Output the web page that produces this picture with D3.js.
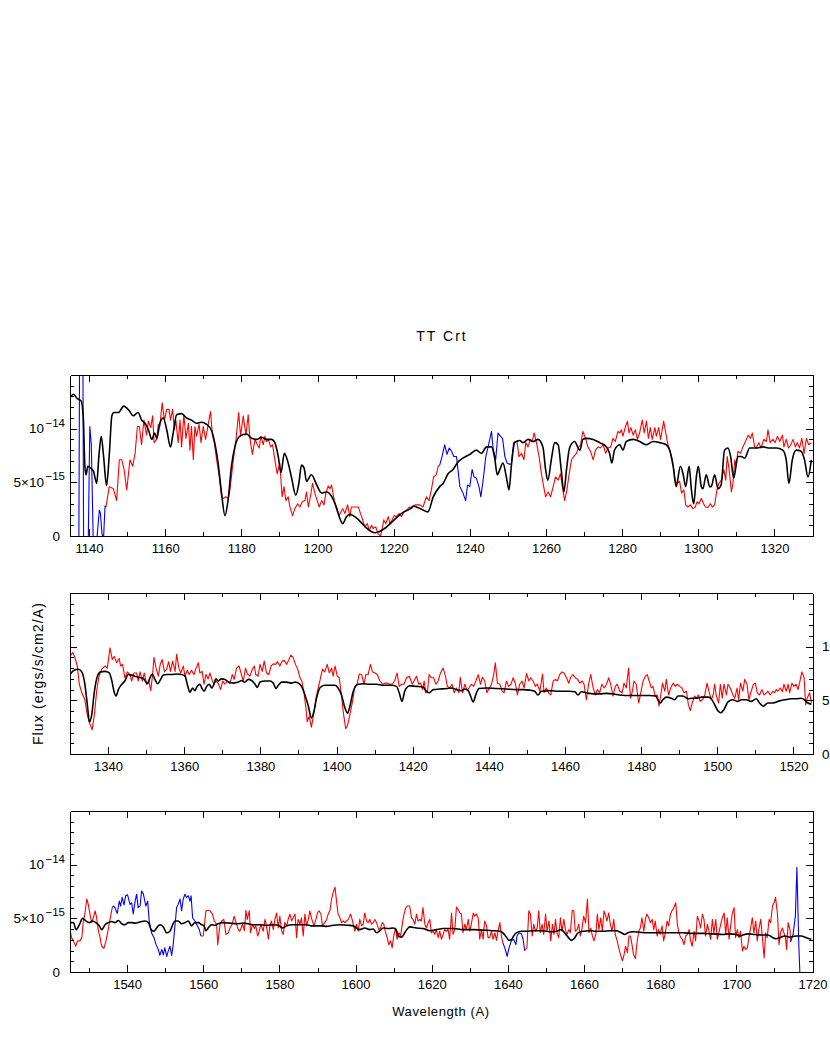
<!DOCTYPE html>
<html><head><meta charset="utf-8">
<script src="https://cdn.jsdelivr.net/npm/d3@7"></script>
<style>
body{margin:0;background:#fff}
svg{display:block}
text{font-family:"Liberation Sans",Arial,sans-serif;fill:#000}
</style></head><body>
<svg id="chart" width="830" height="1042"></svg>
<script>
// Flux values in units of 1e-15 ergs/s/cm2/A, wavelength in Angstrom
const obs1=[[1136.5,-3],[1137.3,-3],[1137.6,25],[1138.3,25],[1138.6,-3],[1139.7,-3],[1140.2,10.2],[1140.6,8.5],[1141.1,-0.5],[1142.0,-0.5],[1142.7,2.4],[1143.0,2.1],[1143.4,0.2],[1143.8,-0.3],[1144.2,2.8],[1144.45,2.7],
[1145.3,4.6],[1146.4,4.4],[1147.25,3.3],[1147.95,7.1],[1148.6,7.1],[1149.2,6.2],[1149.9,4.3],[1150.75,7.1],[1151.45,6.5],[1152.1,7.7],[1152.7,10.2],[1153.2,10.2],[1153.8,8.5],[1154.4,10.8],[1155.1,9.4],[1155.6,10.7],[1156.2,10.1],[1156.7,11.2],[1157.1,8.7],[1157.75,9.0],[1158.2,10.4],[1158.6,10.2],[1159.2,12.4],[1159.8,10.8],[1160.4,11.8],[1161.0,11.8],[1161.4,10.8],[1161.95,11.8],[1162.4,9.9],[1162.8,10.8],[1163.4,8.7],[1163.9,10.8],[1164.3,8.3],[1164.9,11.3],[1165.45,9.1],[1166.1,10.5],[1166.5,8.0],[1166.9,10.2],[1167.4,7.1],[1167.8,10.2],[1168.25,9.3],[1168.9,10.4],[1169.4,8.7],[1170.0,10.2],[1170.6,9.0],[1171.05,9.9],[1171.9,11.6],[1172.4,9.4],[1172.9,8.7],[1173.5,7.1],[1174.2,5.5],[1174.8,3.65],[1175.25,3.5],[1175.95,3.65],[1176.6,3.5],[1177.0,4.3],[1177.9,7.1],[1178.6,9.0],[1179.3,11.5],[1179.8,9.3],[1180.5,11.2],[1181.2,9.4],[1181.8,11.3],[1182.25,9.1],[1182.9,7.6],[1183.6,9.0],[1184.2,8.5],[1184.7,8.2],[1185.1,9.3],[1185.75,8.5],[1186.2,9.3],[1186.6,8.8],[1187.1,9.0],[1187.7,8.3],[1188.2,8.5],[1188.8,7.1],[1189.4,5.8],[1190.1,6.8],[1190.7,3.65],[1191.2,4.6],[1191.7,3.3],[1192.3,3.65],[1192.75,2.7],[1193.45,1.9],[1194.05,2.55],[1194.8,3.0],[1195.4,2.7],[1196.0,3.2],[1196.7,3.3],[1197.1,4.1],[1197.6,2.7],[1198.2,3.8],[1198.7,4.9],[1199.3,4.0],[1199.9,3.3],[1200.45,2.7],[1201.1,3.3],[1201.7,2.9],[1202.2,4.0],[1202.8,4.65],[1203.25,4.4],[1203.7,4.75],[1204.4,3.3],[1205.0,2.7],[1205.7,1.9],[1206.6,2.55],[1207.2,2.1],[1207.9,2.9],[1208.5,1.8],[1208.9,2.7],[1210.7,2.7],[1211.6,1.8],[1212.4,0.85],[1213.1,1.15],[1213.6,0.5],[1214.2,1.0],[1214.6,0.7],[1215.3,0.85],[1215.9,0.2],[1216.55,0.0],[1217.1,0.85],[1217.4,1.5],[1217.95,1.15],[1218.6,1.8],[1219.0,1.15],[1219.6,1.5],[1220.1,1.9],[1220.75,1.8],[1221.45,2.1],[1222.05,1.8],[1222.7,2.25],[1223.4,2.4],[1224.1,2.7],[1224.7,2.55],[1225.6,2.9],[1226.9,2.9],[1227.7,2.7],[1228.6,3.65],[1229.3,3.3],[1229.9,4.3],[1230.5,5.5],[1231.2,5.7],[1231.7,6.5],
[1232.1,6.6],[1232.7,7.4],[1233.4,8.5],[1234.0,7.6],[1234.6,8.2],[1235.2,7.9],[1235.8,7.4],[1236.5,7.4],[1237.4,4.6],[1238.2,4.0],[1238.9,3.3],[1239.4,4.75],[1240.0,4.6],[1240.6,6.2],[1241.1,5.5],[1241.7,5.4],[1242.4,4.6],[1242.9,3.65],[1243.5,5.2],[1244.2,7.4],[1244.8,8.3],[1245.7,9.75],[1246.1,8.2],[1246.8,7.1],[1247.4,9.6],[1248.0,9.3],[1248.6,9.1],[1249.2,7.4],[1249.8,6.8],[1250.3,6.7],[1250.9,6.7],[1251.5,8.7],
[1251.8,8.8],[1252.4,8.8],[1252.9,7.4],[1253.6,7.7],[1254.2,7.1],[1254.7,8.7],[1255.3,8.3],[1255.9,9.0],[1256.4,8.8],[1256.9,9.6],[1257.5,8.7],[1258.2,7.4],[1258.8,5.8],[1259.4,4.6],[1259.9,3.65],[1260.6,4.1],[1261.2,3.65],[1261.9,4.6],[1262.5,5.5],[1263.2,5.2],[1263.8,5.8],[1264.3,4.6],[1264.9,3.3],[1265.5,4.3],[1266.1,5.8],[1266.7,7.1],[1267.3,7.4],[1268.0,7.7],[1268.6,8.3],[1269.1,8.5],[1269.7,9.75],[1270.4,9.1],[1271.0,8.3],[1271.7,7.9],[1272.4,7.1],[1273.0,8.0],[1273.7,8.3],[1274.3,8.2],[1275.0,8.5],[1275.7,7.7],[1276.3,8.2],[1277.0,8.3],[1277.6,9.1],[1278.2,8.8],[1278.9,9.75],[1279.4,9.6],[1279.8,9.9],[1280.2,9.3],[1280.9,10.2],[1281.4,10.7],[1281.8,9.6],[1282.3,10.1],[1282.9,9.4],[1283.5,9.9],[1284.0,9.0],[1284.6,9.6],[1285.3,10.8],[1285.8,9.6],[1286.4,10.7],[1286.9,9.1],[1287.4,10.1],[1287.9,9.0],[1288.6,10.1],[1289.0,9.3],[1289.6,10.1],[1290.1,9.0],[1290.9,10.7],[1291.4,9.75],[1291.9,8.7],[1292.5,8.0],[1293.2,7.1],[1293.8,5.5],[1294.2,4.9],[1295.1,5.1],[1295.6,4.0],[1296.2,4.3],[1296.7,2.9],[1297.3,2.7],[1297.9,2.9],[1298.6,2.55],[1299.2,2.7],[1299.7,3.2],[1300.2,3.0],[1300.8,3.5],[1301.4,3.0],[1301.9,2.7],[1302.5,2.65],[1303.2,3.0],[1303.7,2.7],[1304.3,2.9],[1304.9,4.3],[1305.4,4.9],[1306.1,5.2],[1306.7,6.2],[1307.2,5.2],[1307.6,7.4],[1308.1,6.2],[1308.7,4.1],[1309.1,4.9],[1309.6,7.1],[1310.0,6.5],[1310.4,7.9],[1311.1,7.7],[1311.7,8.3],[1312.4,8.8],[1313.1,9.4],[1313.7,9.1],[1314.2,9.6],[1314.8,8.3],[1315.2,8.2],[1315.9,8.7],[1316.5,8.2],[1317.2,9.0],[1317.9,8.8],[1318.3,9.9],[1318.9,8.7],[1319.6,9.0],[1320.2,8.7],[1320.8,9.3],[1321.4,8.8],[1322.1,9.4],[1322.5,8.3],[1323.1,9.0],[1323.7,8.2],[1324.3,8.5],[1324.9,9.0],[1325.5,8.3],[1326.0,8.7],[1326.6,8.2],[1327.2,9.1],[1327.8,7.7],[1328.4,9.1],[1329.0,8.5],[1329.7,8.7]];

const model1=[[1135.0,12.9],[1135.9,13.2],[1136.9,12.8],[1137.9,12.6],[1138.5,11.0],[1138.9,6.5],[1139.2,5.7],[1139.7,6.5],[1140.5,6.3],[1141.2,6.0],[1142.0,4.9],[1142.6,7.5],[1143.2,9.3],[1143.8,7.5],[1144.6,4.7],[1145.3,7.5],[1146.0,11.2],[1146.5,11.5],[1147.7,11.5],[1149.1,12.1],[1150.5,11.7],[1151.6,11.2],[1152.9,11.5],[1153.8,10.8],[1154.7,10.5],[1155.6,9.9],[1156.5,9.0],[1157.2,9.6],[1157.8,9.1],[1158.6,10.5],[1159.5,11.0],[1160.4,9.9],[1161.4,8.3],[1162.1,9.6],[1163.0,11.3],[1164.3,11.4],[1165.6,11.0],[1166.9,10.8],[1168.2,10.5],[1169.5,10.6],[1170.9,10.4],[1172.2,9.8],[1173.0,8.7],[1173.9,6.8],[1174.8,4.0],[1175.7,1.9],[1176.5,3.3],[1177.4,6.5],[1178.3,8.3],[1179.6,9.3],[1181.4,9.5],[1182.7,9.1],[1184.0,9.0],[1185.3,9.2],[1186.6,9.0],[1187.9,9.0],[1188.8,8.7],[1189.7,7.4],[1190.4,5.9],[1191.3,7.7],[1192.3,6.8],[1193.2,5.4],[1194.3,3.8],[1195.1,4.9],[1195.8,6.6],[1196.5,6.3],[1197.1,5.1],[1198.4,5.7],[1199.8,4.75],[1201.1,4.0],[1202.4,4.1],[1203.7,3.7],[1204.6,3.0],[1205.7,1.8],[1206.6,1.15],[1207.6,1.8],[1208.5,2.0],[1215.0,0.3],[1223.0,2.3],[1224.2,2.5],[1225.2,2.8],[1226.0,2.7],[1227.3,2.5],[1229.0,2.25],[1230.4,3.65],[1232.1,4.6],[1233.0,4.9],[1234.3,5.8],[1235.6,6.2],[1236.9,6.9],[1238.2,7.25],[1240.0,7.6],[1241.7,8.0],[1243.05,7.7],[1244.4,8.3],[1245.7,8.3],[1246.6,7.1],[1247.2,5.7],[1247.9,6.2],[1248.7,6.8],[1249.6,5.5],[1250.3,4.3],[1250.9,6.5],[1251.8,8.7],[1253.1,8.9],[1254.0,8.7],[1255.3,9.0],[1256.6,8.8],[1257.9,9.0],[1259.2,8.3],[1259.9,6.2],[1260.5,5.2],[1261.4,7.1],[1262.3,8.7],[1263.2,8.5],[1264.0,6.2],[1264.7,4.1],[1265.4,6.2],[1266.2,8.2],[1267.5,8.8],[1268.9,8.0],[1269.7,9.0],[1270.6,9.1],[1272.4,9.0],[1274.1,8.7],[1275.9,8.3],[1276.7,7.7],[1277.3,6.8],[1278.0,8.0],[1279.4,8.5],[1280.2,8.0],[1281.1,8.8],[1282.9,9.0],[1284.6,8.8],[1286.4,8.5],[1288.1,8.8],[1289.9,8.7],[1291.6,8.5],[1292.5,8.0],[1293.4,6.5],[1294.2,4.6],[1295.3,6.5],[1296.0,5.8],[1296.7,4.6],[1297.6,6.5],[1298.2,4.3],[1298.8,3.0],[1299.5,5.5],[1300.0,6.5],[1300.8,4.6],[1301.2,4.4],[1302.1,5.7],[1303.0,4.6],[1303.4,4.6],[1304.3,5.7],[1305.2,4.4],[1306.0,4.75],[1306.9,8.0],[1307.8,8.2],[1308.5,7.4],[1309.3,5.4],[1310.4,7.4],[1311.3,7.4],[1312.2,7.25],[1313.5,8.2],[1315.2,8.2],[1317.0,8.3],[1318.7,8.2],[1320.5,8.2],[1322.2,8.0],[1323.1,7.1],[1323.8,4.9],[1324.7,7.1],[1325.7,8.0],[1327.0,7.9],[1327.9,7.1],[1328.8,5.5],[1329.7,7.1]];

const obs2=[[1330.0,9.1],[1330.7,9.45],[1331.3,9.0],[1331.9,8.2],[1332.45,6.5],[1333.1,5.7],[1333.9,5.05],[1334.55,3.65],[1335.1,2.9],[1335.8,2.25],[1336.4,3.65],[1337.0,5.85],[1337.6,7.25],[1338.3,7.9],[1339.2,8.2],[1339.8,8.0],[1340.5,9.9],[1341.1,8.8],[1341.6,9.1],[1342.25,8.5],[1342.9,8.9],[1343.3,8.2],[1343.8,8.35],[1344.4,7.1],[1345.05,7.65],[1345.75,7.4],[1346.2,6.8],[1346.8,7.55],[1347.5,7.55],[1347.9,6.8],[1348.4,7.65],[1349.0,6.8],[1349.5,7.55],[1350.1,6.5],[1350.7,6.8],[1351.2,5.9],[1351.7,7.4],[1352.05,9.0],[1352.6,8.0],[1353.2,7.25],[1353.7,8.35],[1354.2,8.8],[1354.8,7.65],[1355.4,7.9],[1355.9,8.6],[1356.4,7.7],[1356.95,8.65],[1357.6,7.7],[1358.0,9.3],[1358.6,8.0],[1359.1,7.55],[1359.75,8.2],[1360.2,7.25],[1360.8,7.8],[1361.3,7.4],[1361.9,7.8],[1362.55,7.4],[1363.1,8.0],[1363.7,8.5],[1364.1,7.55],[1364.7,7.7],[1365.2,6.5],[1365.7,7.4],[1366.3,7.0],[1366.75,7.55],[1367.4,6.8],[1367.8,6.5],[1368.3,6.8],[1368.9,6.6],[1369.55,6.0],[1370.1,6.8],[1370.7,6.5],[1371.3,6.8],[1372.0,6.55],[1372.6,7.4],[1373.1,6.95],[1373.75,8.0],[1374.4,8.2],[1374.9,7.55],[1375.5,6.8],[1376.1,8.0],[1376.6,7.45],[1377.25,7.25],[1377.9,7.9],[1378.4,8.2],[1378.8,7.4],[1379.4,7.25],[1379.9,8.35],[1380.5,7.7],[1381.0,8.65],[1381.6,7.55],[1382.2,7.4],[1382.8,8.2],[1383.4,8.4],[1384.0,8.35],[1384.5,8.6],[1385.1,8.2],[1385.7,8.65],[1386.3,8.7],[1386.9,8.35],[1387.5,8.8],[1388.0,9.2],[1388.6,9.0],[1389.2,8.35],[1389.8,7.9],[1390.4,7.1],[1390.9,6.8],[1391.4,5.85],[1391.95,4.3],[1392.3,3.0],[1392.8,3.5],[1393.4,2.5],[1394.05,3.8],[1394.6,5.2],[1395.2,6.15],[1395.8,7.1],[1396.3,7.9],[1396.9,7.65],[1397.55,8.35],[1398.1,7.55],[1398.7,8.0],[1399.1,7.25],[1399.6,8.2],[1400.2,7.25],[1400.7,7.1],[1401.3,5.5],[1401.75,3.95],[1402.4,2.35],[1402.9,2.7],[1403.5,3.65],[1404.2,4.9],[1404.8,6.3],[1405.4,6.5],[1405.95,7.45],[1406.6,7.4],[1407.2,6.5],[1407.7,7.4],[1408.3,7.4],[1408.9,8.35],[1409.45,7.65],[1410.1,7.55],[1410.7,7.4],[1411.4,6.8],[1412.1,6.5],[1412.7,6.6],[1413.3,6.6],[1414.0,6.5],[1414.7,6.55],[1415.3,6.85],[1415.9,7.55],[1416.45,6.3],[1417.1,6.5],[1417.7,6.5],[1418.4,7.1],[1419.1,7.25],[1419.9,6.5],[1420.55,6.95],[1421.0,7.25],[1421.6,6.5],[1422.1,6.6],[1422.6,6.0],[1423.0,6.8],[1423.4,5.7],[1423.9,5.85],[1424.3,7.4],[1424.9,7.1],[1425.5,7.1],[1426.1,6.5],[1426.7,6.8],[1427.3,7.55],[1428.0,8.0],[1428.6,7.25],[1429.1,6.3],[1429.7,6.15],[1430.35,6.5],[1430.9,5.7],[1431.5,6.15],[1432.1,5.7],[1432.5,7.15],[1433.1,5.7],[1433.7,6.5],[1434.3,5.9],[1434.8,6.15],[1435.4,6.5],[1436.0,6.3],[1436.6,6.8],[1437.2,7.4],[1437.8,6.5],[1438.3,7.15],[1438.9,6.8],[1439.5,5.7],[1440.1,6.15],[1440.7,6.5],[1441.3,7.45],[1441.7,8.5],[1442.25,6.6],[1442.9,6.5],[1443.5,5.85],[1444.0,5.7],[1444.6,6.8],[1445.2,6.3],[1445.8,6.5],[1446.4,7.1],[1447.0,6.5],[1447.5,5.5],[1448.1,6.5],[1448.7,6.8],[1449.25,6.15],[1449.9,7.5],[1450.5,6.8],[1451.0,7.1],[1451.6,6.8],[1452.2,6.3],[1452.75,6.5],[1453.4,5.85],[1454.1,7.45],[1454.5,5.7],[1455.1,6.15],[1455.7,5.7],[1456.25,5.5],[1456.9,6.8],[1457.5,6.95],[1458.0,6.8],[1458.6,7.4],[1459.2,7.65],[1459.75,7.55],[1460.4,7.1],[1461.0,6.6],[1461.5,7.15],[1462.1,7.4],[1462.7,7.1],[1463.3,6.95],[1463.9,6.6],[1464.5,6.8],[1465.0,6.5],[1465.6,5.05],[1466.2,6.5],[1466.75,7.4],[1467.4,6.15],[1468.0,5.5],[1468.5,6.0],[1469.1,5.7],[1469.7,6.5],[1470.3,6.15],[1470.9,6.5],[1471.5,7.1],[1472.0,6.5],[1472.6,5.4],[1473.2,6.3],[1473.7,6.5],[1474.4,5.85],[1475.0,5.7],[1475.5,6.6],[1476.1,6.15],[1476.7,8.0],[1477.2,5.2],[1477.7,5.85],[1478.1,6.8],[1478.7,6.5],[1479.35,4.75],[1479.9,5.7],[1480.5,6.8],[1481.1,7.25],[1481.6,7.4],[1482.1,6.8],[1482.7,6.15],[1483.1,6.3],[1483.7,5.4],[1484.25,5.5],[1484.7,4.45],[1485.1,5.4],[1485.6,6.6],[1486.2,5.85],[1486.6,6.95],[1487.2,5.5],[1487.75,6.15],[1488.4,6.6],[1489.0,6.3],[1489.5,6.5],[1490.1,6.3],[1490.7,6.15],[1491.25,5.7],[1491.9,5.85],[1492.4,4.6],[1492.9,4.05],[1493.4,4.75],[1494.05,5.4],[1494.5,5.2],[1495.0,5.5],[1495.5,4.9],[1496.1,5.05],[1496.7,5.5],[1497.3,6.6],[1497.8,5.85],[1498.4,5.05],[1498.9,5.5],[1499.3,6.5],[1499.7,5.5],[1500.35,4.75],[1500.8,6.5],[1501.3,5.2],[1501.75,6.5],[1502.4,5.5],[1502.8,6.5],[1503.4,6.15],[1504.1,5.5],[1504.6,5.2],[1505.2,6.15],[1505.6,5.05],[1506.1,6.6],[1506.7,5.85],[1507.2,6.95],[1507.8,6.5],[1508.3,5.05],[1508.9,5.85],[1509.5,6.5],[1510.0,6.6],[1510.5,5.7],[1511.1,5.5],[1511.7,6.0],[1512.3,5.5],[1512.9,5.7],[1513.3,5.85],[1513.9,5.5],[1514.6,5.85],[1515.05,5.7],[1515.5,6.0],[1515.9,5.85],[1516.5,6.15],[1517.1,5.8],[1517.5,6.5],[1518.1,5.85],[1518.6,6.5],[1519.0,5.7],[1519.6,6.6],[1520.1,6.3],[1520.7,6.5],[1521.2,6.0],[1521.6,6.6],[1522.2,7.65],[1522.8,7.1],[1523.2,4.6],[1523.6,5.2],[1524.25,5.7],[1524.7,4.75]];

const model2=[[1330.0,7.4],[1331.05,7.8],[1332.2,7.9],[1333.1,7.65],[1333.9,6.5],[1334.55,4.6],[1335.1,3.0],[1335.7,3.65],[1336.4,5.8],[1337.2,7.25],[1338.05,7.65],[1339.2,7.7],[1340.3,7.55],[1341.0,6.8],[1341.55,5.85],[1342.1,5.4],[1342.7,6.0],[1343.6,6.5],[1344.4,6.8],[1345.3,7.4],[1346.2,7.35],[1347.1,7.25],[1347.9,7.15],[1348.8,7.1],[1349.5,6.95],[1350.3,6.55],[1351.0,7.1],[1351.6,7.45],[1352.3,6.95],[1353.0,6.55],[1353.8,6.95],[1354.5,7.35],[1355.4,7.4],[1356.7,7.4],[1358.0,7.45],[1359.3,7.4],[1360.2,7.25],[1360.8,6.5],[1361.5,5.75],[1362.2,6.15],[1362.8,5.9],[1363.4,6.3],[1364.1,6.5],[1364.6,6.15],[1365.2,5.85],[1365.9,6.3],[1366.6,6.5],[1367.2,6.15],[1367.8,6.5],[1368.3,7.0],[1368.9,6.8],[1369.8,7.0],[1370.7,6.95],[1371.6,6.7],[1372.9,6.6],[1374.2,6.7],[1375.1,6.85],[1375.9,6.7],[1376.8,6.95],[1377.7,6.85],[1378.6,6.5],[1379.2,6.2],[1379.9,6.7],[1381.2,6.8],[1382.5,6.8],[1383.4,6.6],[1384.1,6.1],[1384.7,6.4],[1385.6,6.7],[1386.9,6.7],[1388.2,6.6],[1389.1,6.7],[1390.2,6.55],[1390.8,6.3],[1391.7,5.5],[1392.6,4.45],[1393.4,3.35],[1394.05,3.95],[1394.75,5.2],[1395.6,6.15],[1396.9,6.4],[1398.25,6.4],[1399.6,6.4],[1400.4,6.15],[1401.3,5.5],[1402.2,4.3],[1402.9,3.8],[1403.5,4.45],[1404.4,5.85],[1405.7,6.5],[1407.0,6.55],[1408.75,6.5],[1410.5,6.5],[1412.25,6.4],[1414.4,6.4],[1415.75,6.3],[1416.45,5.7],[1417.2,4.9],[1417.9,5.85],[1418.8,6.3],[1419.2,6.35],[1421.0,6.3],[1422.7,6.25],[1423.6,5.85],[1424.3,5.7],[1425.4,6.0],[1427.1,6.05],[1428.9,6.1],[1430.2,6.15],[1431.5,6.0],[1432.8,5.9],[1433.7,6.05],[1434.6,5.9],[1435.2,5.4],[1435.9,4.85],[1436.6,5.55],[1437.4,6.1],[1439.4,6.15],[1442.0,6.1],[1444.6,6.05],[1447.2,6.0],[1449.0,6.0],[1450.7,5.95],[1452.05,5.85],[1452.9,5.5],[1453.8,5.85],[1456.0,5.9],[1458.6,5.85],[1461.2,5.85],[1462.6,5.8],[1463.4,5.5],[1464.3,5.8],[1465.6,5.7],[1467.4,5.6],[1469.1,5.6],[1470.9,5.65],[1472.6,5.6],[1474.4,5.5],[1477.0,5.45],[1479.6,5.45],[1482.2,5.45],[1483.8,5.4],[1484.4,5.05],[1485.0,4.75],[1485.7,5.05],[1486.6,5.3],[1487.9,5.2],[1488.8,5.05],[1489.7,5.4],[1491.0,5.4],[1492.3,5.15],[1493.4,5.2],[1494.5,5.2],[1495.8,5.3],[1497.6,5.3],[1498.4,5.15],[1499.3,4.6],[1500.2,4.0],[1500.9,3.85],[1501.7,4.1],[1502.8,4.85],[1504.1,5.05],[1505.4,4.9],[1506.3,5.05],[1507.6,5.05],[1508.9,4.9],[1510.2,5.15],[1511.1,4.75],[1512.0,4.45],[1513.3,4.75],[1514.6,4.75],[1516.4,4.95],[1517.7,5.05],[1519.4,5.15],[1520.7,5.15],[1522.0,5.2],[1522.9,5.05],[1523.8,4.75],[1524.7,4.65]];

const obs3=[[1525.0,3.95],[1525.4,3.2],[1525.9,2.9],[1526.5,2.4],[1527.0,2.9],[1527.6,2.9],[1528.1,3.2],[1528.5,4.75],[1528.9,5.4],[1529.4,6.8],[1529.8,6.3],[1530.25,5.4],[1530.7,4.6],[1531.1,5.05],[1531.6,5.7],[1532.0,5.05],[1532.4,3.95],[1532.9,3.2],[1533.3,2.4],[1533.9,2.2],[1534.45,2.9],[1535.1,4.1],[1535.5,4.9],[1536.1,6.0],
[1536.4,6.15],[1536.8,6.0],[1537.4,5.45],[1537.95,6.6],[1538.3,6.15],[1538.7,6.95],[1539.2,6.25],[1539.6,7.1],[1540.1,7.2],[1540.75,6.3],[1541.2,6.45],[1541.6,5.4],[1542.1,6.6],[1542.5,7.25],[1542.9,6.0],[1543.4,6.15],[1543.8,7.55],[1544.25,7.3],[1544.9,6.15],[1545.4,6.6],[1545.8,4.75],[1546.4,3.65],[1547.05,3.2],[1547.6,2.55],[1548.2,2.1],[1548.6,1.55],[1549.1,2.1],[1549.5,1.6],[1549.9,2.25],[1550.4,1.45],[1550.8,1.95],[1551.25,2.4],[1551.7,1.55],[1552.1,2.55],[1552.6,4.45],[1553.0,6.0],[1553.4,6.3],[1553.9,6.8],[1554.3,5.7],[1554.75,6.8],[1555.2,7.25],[1555.6,6.95],[1556.1,7.1],[1556.5,6.6],[1556.8,7.1],[1557.2,5.05],[1557.8,4.75],[1558.25,4.45],[1558.95,3.95],[1559.4,3.35],
[1560.0,3.35],[1560.7,5.7],[1561.3,5.75],[1561.75,5.7],[1562.4,5.4],[1562.9,4.75],[1563.5,4.45],[1563.8,2.55],[1564.4,4.45],[1564.8,4.75],[1565.4,4.9],[1565.95,3.5],[1566.6,3.65],[1567.0,4.1],[1567.6,4.45],[1568.1,5.2],[1568.75,4.45],[1569.2,3.95],[1569.6,3.8],[1570.3,4.45],[1570.8,3.85],[1571.2,5.75],[1571.55,4.9],[1572.1,5.7],[1572.4,3.65],[1572.95,4.45],[1573.4,4.05],[1573.8,4.3],[1574.3,3.35],[1574.7,3.8],[1575.1,4.45],[1575.75,3.8],[1576.2,4.9],[1576.6,4.3],[1577.1,3.05],[1577.5,4.3],[1577.9,4.75],[1578.4,3.95],[1578.8,4.9],[1579.25,5.5],[1579.7,4.1],[1580.1,5.2],[1580.6,3.8],[1581.0,3.5],[1581.4,4.6],[1581.9,4.3],[1582.3,4.9],[1582.75,5.4],[1583.2,4.75],[1583.6,5.05],[1584.1,5.4],[1584.5,3.2],[1584.9,4.9],[1585.4,4.45],[1585.8,5.05],[1586.25,3.35],[1586.7,5.4],[1587.1,4.3],[1587.6,4.9],[1588.0,5.7],[1588.4,5.05],[1589.05,4.3],[1589.6,4.9],[1590.0,5.5],[1590.4,5.7],[1590.9,5.4],[1591.3,4.3],[1591.9,4.6],[1592.4,4.9],[1592.8,5.4],[1593.25,5.7],[1593.7,6.8],[1594.1,7.4],[1594.6,7.9],[1595.0,6.6],[1595.4,5.4],[1595.9,5.05],[1596.3,4.6],[1596.75,4.75],[1597.2,4.6],[1597.6,4.75],[1598.1,4.9],[1598.7,5.4],[1599.2,4.75],[1599.8,3.8],[1600.25,4.45],[1600.7,3.8],[1601.1,4.9],[1601.6,4.3],[1602.0,4.45],[1602.4,5.5],[1602.9,4.75],[1603.3,4.6],[1603.75,4.9],[1604.2,4.45],[1604.6,4.6],[1605.1,4.9],[1605.5,4.6],[1606.1,3.95],[1606.55,4.1],[1607.0,4.6],[1607.4,4.45],[1607.9,3.65],[1608.3,3.2],[1608.7,2.55],[1609.2,2.9],[1609.6,2.25],[1610.0,3.35],[1610.5,4.1],[1610.9,3.05],[1611.4,3.65],[1611.8,3.35],[1612.2,4.3],[1612.7,5.4],[1613.2,6.0],[1613.6,6.15],[1614.2,6.15],[1614.7,5.05],[1615.1,4.9],[1615.55,4.45],[1616.0,5.4],[1616.4,4.75],[1616.9,4.9],[1617.3,4.75],[1617.7,6.0],[1618.2,4.45],[1618.6,4.1],[1619.05,4.6],[1619.5,4.9],[1619.9,3.65],[1620.4,3.8],[1620.8,3.5],[1621.2,3.95],[1621.7,3.2],[1622.1,3.8],[1622.55,3.05],[1623.0,3.5],[1623.4,3.95],[1623.9,3.8],[1624.3,3.95],[1624.7,3.05],[1625.2,5.5],[1625.6,3.5],[1626.05,3.95],[1626.5,6.05],[1626.9,5.85],[1627.4,5.5],[1627.8,5.4],[1628.2,3.65],[1628.7,4.45],[1629.1,3.95],[1629.6,4.9],[1630.0,3.8],[1630.4,4.45],[1630.9,5.5],[1631.3,5.2],[1631.7,5.4],[1632.2,5.05],[1632.6,3.05],[1633.05,3.95],[1633.5,3.05],[1633.9,4.75],[1634.4,4.3],[1634.8,3.2],[1635.2,3.2],[1635.7,3.8],[1636.1,3.05],[1636.6,3.65],[1637.0,2.95],[1637.4,3.8],[1637.9,4.6],[1638.3,3.35],[1638.7,2.7],
[1639.2,2.25],[1639.8,1.45],[1640.3,2.25],[1640.9,2.9],[1641.5,3.05],[1642.1,2.55],[1642.4,3.35],[1642.9,3.65],[1643.55,3.55],[1644.0,3.05],[1644.4,2.0],
[1645.0,2.25],[1645.5,5.7],[1645.9,5.4],[1646.4,3.35],[1646.8,4.45],[1647.2,3.8],[1647.7,4.1],[1648.1,5.7],[1648.5,3.65],[1649.0,4.45],[1649.4,3.5],[1649.9,5.4],[1650.3,3.8],[1650.8,4.75],[1651.25,2.9],[1651.7,4.45],[1652.1,3.5],[1652.5,4.9],[1652.9,3.65],[1653.35,3.2],[1653.8,5.05],[1654.2,3.8],[1654.7,4.9],[1655.1,3.95],[1655.55,3.5],[1656.0,3.95],[1656.4,3.65],[1656.9,5.75],[1657.3,5.7],[1657.7,3.8],[1658.2,3.95],[1658.6,4.45],[1659.0,3.35],[1659.5,4.1],[1659.9,5.2],[1660.4,4.6],[1660.9,6.8],[1661.3,3.65],[1661.75,4.1],[1662.2,3.35],[1662.6,2.9],[1663.1,3.5],[1663.5,5.4],[1663.9,3.95],[1664.4,5.05],[1664.8,3.8],[1665.25,5.7],[1665.7,5.2],[1666.0,4.75],[1666.5,5.5],[1666.9,4.45],[1667.35,3.8],[1667.8,4.9],[1668.2,3.5],[1668.7,2.9],[1669.1,2.25],[1669.6,1.6],[1670.1,1.05],[1670.5,1.6],[1670.9,2.4],[1671.4,1.8],[1671.8,3.35],[1672.2,3.35],[1672.6,2.55],[1673.0,1.6],[1673.5,1.25],[1673.9,2.7],[1674.35,3.8],[1674.8,4.1],[1675.2,5.05],[1675.7,3.8],[1676.1,4.9],[1676.5,5.4],[1677.0,5.05],[1677.4,4.6],[1677.9,4.9],[1678.3,3.95],[1678.7,4.75],[1679.2,3.35],[1679.6,3.95],[1680.0,3.5],[1680.5,4.3],[1680.9,2.9],[1681.35,3.65],[1681.8,4.75],[1682.2,4.3],[1682.7,5.4],[1683.1,5.7],[1683.6,6.0],[1684.1,6.45],[1684.5,4.45],[1684.9,3.65],[1685.4,3.2],[1685.8,3.05],[1686.25,2.55],[1686.7,3.35],[1687.1,3.5],[1687.6,3.95],[1688.0,2.9],[1688.4,2.4],[1688.9,3.8],[1689.3,2.9],[1689.75,5.2],[1690.2,4.75],[1690.6,4.1],[1691.1,5.4],[1691.5,4.9],[1691.9,3.35],[1692.4,4.45],[1692.8,3.8],[1693.25,3.05],[1693.7,4.9],[1694.1,3.65],[1694.6,4.9],[1695.0,3.05],[1695.4,3.65],[1695.9,4.45],[1696.3,5.05],[1696.8,5.5],[1697.2,3.5],[1697.6,5.05],[1698.1,3.05],[1698.5,4.3],[1698.9,5.4],[1699.4,6.0],[1699.8,3.2],[1700.25,3.95],[1700.7,3.2],[1701.1,3.8],[1701.6,1.95],[1702.0,2.4],[1702.45,2.1],[1702.9,2.25],[1703.3,3.2],[1703.75,4.1],[1704.2,5.05],[1704.6,3.65],[1705.1,4.75],[1705.5,2.9],[1705.9,3.95],[1706.4,4.9],[1706.8,3.35],[1707.3,1.3],[1707.7,3.65],[1708.1,3.2],[1708.6,4.9],[1709.0,4.6],[1709.5,6.15],[1709.9,6.45],[1710.3,6.95],[1710.8,5.4],[1711.2,2.55],[1711.6,3.65],[1712.1,4.1],[1712.5,3.65],[1712.9,3.2],[1713.2,2.1],[1713.6,4.6],[1714.1,3.95],
[1714.25,2.8],[1714.9,3.5],[1715.5,5.2],[1715.9,9.75],[1716.4,2.55],[1717.0,-3]];

const model3=[[1525.0,4.6],[1525.9,4.6],[1526.6,3.95],[1527.45,4.4],[1528.3,5.0],[1529.2,4.75],[1530.1,4.6],[1530.95,4.75],[1531.8,4.6],[1532.7,4.3],[1533.3,3.95],[1534.2,4.4],[1535.1,4.6],[1535.9,4.7],[1536.8,4.6],[1537.7,4.8],[1538.6,4.5],[1539.4,4.4],[1540.3,4.6],[1541.2,4.6],[1542.1,4.55],[1542.9,4.6],[1543.8,4.7],[1544.7,4.75],[1545.6,4.6],[1546.3,3.95],[1547.05,3.8],[1547.75,4.1],[1548.6,4.4],[1549.5,4.2],[1550.4,3.65],[1551.25,3.8],[1551.95,4.4],[1552.6,4.75],[1553.4,4.75],[1554.3,4.5],[1555.2,4.6],[1556.1,4.75],[1556.9,4.3],[1557.8,4.6],[1558.7,4.6],[1559.6,4.4],[1560.2,4.3],[1560.7,3.85],[1561.3,4.1],[1562.2,4.4],[1563.1,4.35],[1563.9,4.5],[1565.25,4.6],[1567.0,4.55],[1568.75,4.5],[1570.5,4.55],[1571.8,4.5],[1573.1,4.4],[1574.9,4.4],[1576.6,4.35],[1578.4,4.4],[1579.7,4.35],[1580.8,4.1],[1581.9,4.3],[1583.6,4.4],[1585.4,4.4],[1587.1,4.4],[1588.4,4.3],[1589.75,4.3],[1591.1,4.3],[1592.4,4.25],[1594.1,4.35],[1595.9,4.4],[1598.1,4.35],[1599.4,4.3],[1600.4,4.05],[1601.1,3.95],[1602.4,4.1],[1603.75,3.95],[1604.6,4.0],[1605.5,3.65],[1606.4,3.85],[1607.25,4.1],[1608.6,4.05],[1609.9,4.1],[1610.6,3.95],[1611.4,3.3],[1612.1,3.25],[1612.9,3.65],[1613.8,4.1],[1614.2,4.2],[1616.0,4.1],[1617.7,4.05],[1619.5,3.85],[1621.2,3.95],[1623.0,4.05],[1625.6,4.05],[1628.2,3.95],[1630.9,3.95],[1633.5,3.9],[1636.1,3.85],[1637.9,3.8],[1638.7,3.65],[1639.6,3.25],[1640.3,2.95],[1640.9,3.0],[1641.5,3.35],[1642.2,3.65],[1643.55,3.8],[1644.9,3.8],[1646.6,3.85],[1648.4,3.85],[1650.1,3.8],[1651.4,3.75],[1652.7,3.8],[1654.05,3.95],[1654.9,3.65],[1655.8,3.25],[1656.7,2.95],[1657.6,3.2],[1658.4,3.65],[1659.7,3.8],[1661.5,3.85],[1663.2,3.8],[1665.0,3.8],[1666.7,3.85],[1668.5,3.85],[1669.8,3.65],[1670.7,3.5],[1671.5,3.65],[1672.9,3.75],[1674.6,3.7],[1676.4,3.65],[1678.1,3.65],[1680.7,3.65],[1683.4,3.65],[1686.0,3.65],[1688.6,3.6],[1691.2,3.6],[1693.9,3.55],[1696.5,3.5],[1698.2,3.55],[1700.0,3.5],[1700.9,3.35],[1701.7,3.45],[1703.1,3.55],[1704.8,3.5],[1706.5,3.45],[1708.3,3.45],[1709.6,3.2],[1710.5,3.1],[1711.4,3.2],[1712.7,3.35],[1714.0,3.25],[1715.7,3.35],[1717.0,3.35],[1718.4,3.2],[1719.7,3.05]];

// wavelength ranges drawn in blue (flagged data)
const maskRanges=[[1135,1144.5],[1232.0,1251.6],[1536.2,1559.6],[1638.9,1644.6],[1714.2,1720]];
const panelDomains=[[1135,1330],[1330,1525],[1525,1720]];
const obsSeries=[obs1,obs2,obs3];
const modelSeries=[model1,model2,model3];
const yMajorTicks=[0,5,10];
const yTickLabels={0:"0",5:"5×10|−15",10:"10|−14"};
const yMinorTicks=[1,2,3,4,6,7,8,9,11,12,13,14];
const labelSide=["left","right","left"];
const titleText="TT Crt";
const xTitle="Wavelength (A)";
const yTitle="Flux (ergs/s/cm2/A)";

const L=70,R=812.5,PH=161;
const tops=[375,593,811];
const svg=d3.select("#chart");

svg.append("text").attr("x",442).attr("y",341).attr("text-anchor","middle").attr("font-size","14px").attr("letter-spacing","2px").text(titleText);
svg.append("text").attr("x",441).attr("y",1016).attr("text-anchor","middle").attr("font-size","13px").attr("letter-spacing","0.6px").text(xTitle);
svg.append("text").attr("transform","translate(43,673.5) rotate(-90)").attr("text-anchor","middle").attr("font-size","14px").attr("letter-spacing","1.15px").text(yTitle);

const inMask=w=>maskRanges.some(r=>w>=r[0]&&w<=r[1]);

function styleAxis(g){
  g.selectAll("path,line").attr("stroke","#000").attr("stroke-width",1).attr("shape-rendering","crispEdges");
  g.selectAll("text").attr("font-size","13px").attr("fill","#000").attr("font-family",'"Liberation Sans",Arial,sans-serif');
}
function supLabels(g,side){
  g.selectAll(".tick text").each(function(d){
    const t=d3.select(this);
    const parts=yTickLabels[d].split("|");
    t.text(parts[0]).attr("font-size","13.5px");
    if(parts[1]) t.append("tspan").attr("dy","-0.6em").attr("dx","1.5").attr("font-size","11.5px").text(parts[1]);
    else if(side==="left") t.attr("dx","-5");
  });
}

panelDomains.forEach((dom,p)=>{
  const g=svg.append("g").attr("transform",`translate(0,${tops[p]})`);
  const x=d3.scaleLinear().domain(dom).range([L,R]);
  const y=d3.scaleLinear().domain([0,15]).range([PH,0]);
  const cid="clip"+p;
  g.append("clipPath").attr("id",cid).append("rect").attr("x",L).attr("y",0).attr("width",R-L).attr("height",PH);
  const plot=g.append("g").attr("clip-path",`url(#${cid})`);
  const line=d3.line().x(d=>x(d[0])).y(d=>y(d[1]));
  const smooth=d3.line().x(d=>x(d[0])).y(d=>y(d[1])).curve(d3.curveMonotoneX);
  const obs=obsSeries[p];
  const runs=[];let cur=null;
  for(let i=0;i<obs.length-1;i++){
    const mid=(obs[i][0]+obs[i+1][0])/2;
    const col=inMask(mid)?"#0000ff":"#ff0000";
    if(!cur||cur.col!==col){cur={col,pts:[obs[i]]};runs.push(cur);}
    cur.pts.push(obs[i+1]);
  }
  runs.filter(r=>r.col==="#ff0000").concat(runs.filter(r=>r.col!=="#ff0000")).forEach(r=>{
    plot.append("path").datum(r.pts).attr("d",line).attr("fill","none").attr("stroke",r.col).attr("stroke-width",1.1).attr("stroke-linejoin","round");
  });
  plot.append("path").datum(modelSeries[p]).attr("d",smooth).attr("fill","none").attr("stroke","#000").attr("stroke-width",1.6).attr("stroke-linejoin","round");

  const majors=d3.range(Math.ceil(dom[0]/20)*20,dom[1]+0.01,20);
  const minors=d3.range(Math.ceil(dom[0]/10)*10,dom[1]+0.01,10).filter(v=>v%20!==0);
  const gb=g.append("g").attr("transform",`translate(0,${PH})`).call(d3.axisBottom(x).tickValues(majors).tickSize(-7).tickSizeOuter(0).tickPadding(8).tickFormat(d3.format("d")));
  styleAxis(gb);
  styleAxis(g.append("g").attr("transform",`translate(0,${PH})`).call(d3.axisBottom(x).tickValues(minors).tickSize(-4).tickSizeOuter(0).tickFormat("")));
  styleAxis(g.append("g").call(d3.axisTop(x).tickValues(majors).tickSize(-7).tickSizeOuter(0).tickFormat("")));
  styleAxis(g.append("g").call(d3.axisTop(x).tickValues(minors).tickSize(-4).tickSizeOuter(0).tickFormat("")));
  const gl=g.append("g").attr("transform",`translate(${L},0)`).call(d3.axisLeft(y).tickValues(yMajorTicks).tickSize(-7).tickSizeOuter(0).tickPadding(5).tickFormat(labelSide[p]==="left"?(d=>d):""));
  styleAxis(gl);
  if(labelSide[p]==="left") supLabels(gl,"left");
  styleAxis(g.append("g").attr("transform",`translate(${L},0)`).call(d3.axisLeft(y).tickValues(yMinorTicks).tickSize(-4).tickSizeOuter(0).tickFormat("")));
  const gr=g.append("g").attr("transform",`translate(${R},0)`).call(d3.axisRight(y).tickValues(yMajorTicks).tickSize(-7).tickSizeOuter(0).tickPadding(9.5).tickFormat(labelSide[p]==="right"?(d=>d):""));
  styleAxis(gr);
  if(labelSide[p]==="right") supLabels(gr,"right");
  styleAxis(g.append("g").attr("transform",`translate(${R},0)`).call(d3.axisRight(y).tickValues(yMinorTicks).tickSize(-4).tickSizeOuter(0).tickFormat("")));
});
</script>
</body></html>
